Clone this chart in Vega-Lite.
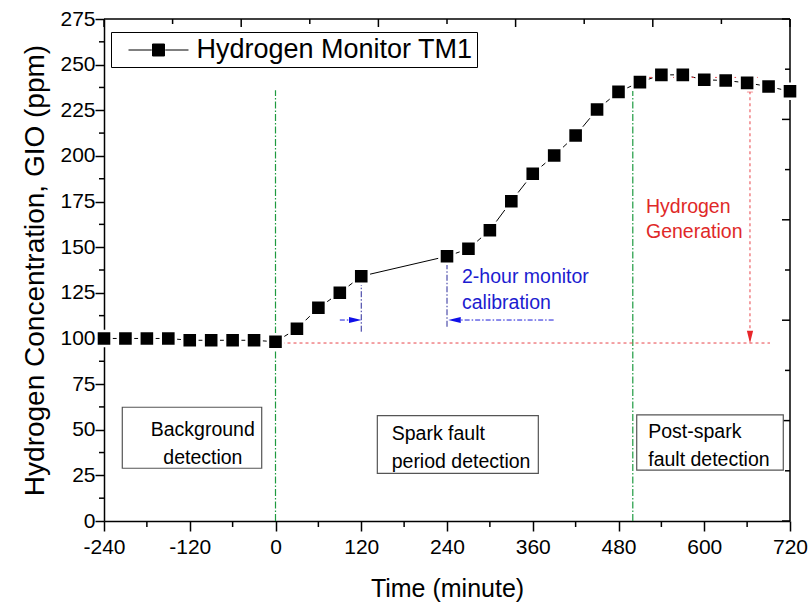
{
  "$schema": "https://vega.github.io/schema/vega-lite/v6.json",
  "width": 686,
  "height": 502,
  "autosize": {"type": "none"},
  "padding": {"left": 104, "top": 19, "right": 20, "bottom": 87},
  "background": "white",
  "config": {
    "view": {"stroke": null},
    "axis": {
      "grid": false,
      "domainColor": "black",
      "domainWidth": 1.5,
      "tickColor": "black",
      "tickWidth": 1.5,
      "labelFont": "Liberation Sans",
      "labelFontSize": 21,
      "labelColor": "black",
      "titleFont": "Liberation Sans",
      "titleFontWeight": "normal",
      "titleColor": "black"
    },
    "text": {"font": "Liberation Sans"}
  },
  "datasets": {
    "frameV": [{"x": 720, "y": 0, "y2": 275}],
    "frameH": [{"x": -240, "x2": 720, "y": 275}],
    "topMajor": [{"x": -240, "y": 275}, {"x": -48, "y": 275}, {"x": 144, "y": 275}, {"x": 336, "y": 275}, {"x": 528, "y": 275}, {"x": 720, "y": 275}],
    "topMinor": [{"x": -144, "y": 275}, {"x": 48, "y": 275}, {"x": 240, "y": 275}, {"x": 432, "y": 275}, {"x": 624, "y": 275}],
    "rightMajor": [{"x": 720, "y": 0}, {"x": 720, "y": 55}, {"x": 720, "y": 110}, {"x": 720, "y": 165}, {"x": 720, "y": 220}, {"x": 720, "y": 275}],
    "rightMinor": [{"x": 720, "y": 27.5}, {"x": 720, "y": 82.5}, {"x": 720, "y": 137.5}, {"x": 720, "y": 192.5}, {"x": 720, "y": 247.5}],
    "bottomMinor": [{"x": -180, "y": 0}, {"x": -60, "y": 0}, {"x": 60, "y": 0}, {"x": 180, "y": 0}, {"x": 300, "y": 0}, {"x": 420, "y": 0}, {"x": 540, "y": 0}, {"x": 660, "y": 0}],
    "leftMinor": [{"x": -240, "y": 12.5}, {"x": -240, "y": 37.5}, {"x": -240, "y": 62.5}, {"x": -240, "y": 87.5}, {"x": -240, "y": 112.5}, {"x": -240, "y": 137.5}, {"x": -240, "y": 162.5}, {"x": -240, "y": 187.5}, {"x": -240, "y": 212.5}, {"x": -240, "y": 237.5}, {"x": -240, "y": 262.5}],
    "main": [
      {"t": -240, "c": 100, "s": "Hydrogen Monitor TM1"},
      {"t": -210, "c": 100, "s": "Hydrogen Monitor TM1"},
      {"t": -180, "c": 100, "s": "Hydrogen Monitor TM1"},
      {"t": -150, "c": 100, "s": "Hydrogen Monitor TM1"},
      {"t": -120, "c": 99, "s": "Hydrogen Monitor TM1"},
      {"t": -90, "c": 99, "s": "Hydrogen Monitor TM1"},
      {"t": -60, "c": 99, "s": "Hydrogen Monitor TM1"},
      {"t": -30, "c": 99, "s": "Hydrogen Monitor TM1"},
      {"t": 0, "c": 98.2, "s": "Hydrogen Monitor TM1"},
      {"t": 30, "c": 105.3, "s": "Hydrogen Monitor TM1"},
      {"t": 60, "c": 116.8, "s": "Hydrogen Monitor TM1"},
      {"t": 90, "c": 125, "s": "Hydrogen Monitor TM1"},
      {"t": 120, "c": 134.1, "s": "Hydrogen Monitor TM1"},
      {"t": 240, "c": 145, "s": "Hydrogen Monitor TM1"},
      {"t": 270, "c": 149.1, "s": "Hydrogen Monitor TM1"},
      {"t": 300, "c": 159.3, "s": "Hydrogen Monitor TM1"},
      {"t": 330, "c": 175.2, "s": "Hydrogen Monitor TM1"},
      {"t": 360, "c": 190.2, "s": "Hydrogen Monitor TM1"},
      {"t": 390, "c": 200.2, "s": "Hydrogen Monitor TM1"},
      {"t": 420, "c": 211.2, "s": "Hydrogen Monitor TM1"},
      {"t": 450, "c": 225.4, "s": "Hydrogen Monitor TM1"},
      {"t": 480, "c": 235.1, "s": "Hydrogen Monitor TM1"},
      {"t": 510, "c": 240.4, "s": "Hydrogen Monitor TM1"},
      {"t": 540, "c": 244.4, "s": "Hydrogen Monitor TM1"},
      {"t": 570, "c": 244.4, "s": "Hydrogen Monitor TM1"},
      {"t": 600, "c": 241.7, "s": "Hydrogen Monitor TM1"},
      {"t": 630, "c": 241.3, "s": "Hydrogen Monitor TM1"},
      {"t": 660, "c": 240, "s": "Hydrogen Monitor TM1"},
      {"t": 690, "c": 238, "s": "Hydrogen Monitor TM1"},
      {"t": 720, "c": 235.4, "s": "Hydrogen Monitor TM1"}
    ],
    "boxes": [
      {"x1": -214.4, "x2": -19.3, "y1": 28.9, "y2": 62.3},
      {"x1": 142.5, "x2": 367.8, "y1": 26.1, "y2": 57.7},
      {"x1": 505.5, "x2": 710.6, "y1": 27.9, "y2": 58.1}
    ],
    "boxText": [
      {"x": -174.6, "y": 49.9, "label": "Background"},
      {"x": -157, "y": 34.3, "label": "detection"},
      {"x": 162.6, "y": 47.5, "label": "Spark fault"},
      {"x": 162.6, "y": 32.5, "label": "period detection"},
      {"x": 521.6, "y": 48.9, "label": "Post-spark"},
      {"x": 521.6, "y": 33.4, "label": "fault detection"}
    ],
    "blueText": [
      {"x": 261, "y": 133.7, "label": "2-hour monitor"},
      {"x": 261, "y": 119.4, "label": "calibration"}
    ],
    "redText": [
      {"x": 518.5, "y": 172.2, "label": "Hydrogen"},
      {"x": 518.5, "y": 158.1, "label": "Generation"}
    ],
    "green": [
      {"x": 0, "y": 0, "y2": 236},
      {"x": 500, "y": 0, "y2": 236}
    ],
    "redH": [
      {"x": 0, "x2": 692, "y": 97.5},
      {"x": 506, "x2": 675, "y": 243}
    ],
    "redV": [
      {"x": 664, "y": 99, "y2": 240}
    ],
    "blueV": [
      {"x": 120, "y": 103.7, "y2": 134},
      {"x": 240, "y": 106.4, "y2": 145}
    ],
    "blueH": [
      {"x": 90, "x2": 112, "y": 110.1},
      {"x": 250, "x2": 392, "y": 110.1}
    ],
    "headUp": [{"x": 664, "y": 238.3}],
    "headDown": [{"x": 664, "y": 100.8}],
    "headRight": [{"x": 111.6, "y": 110.1}],
    "headLeft": [{"x": 250.5, "y": 110.1}]
  },
  "layer": [
    {
      "data": {"name": "main"},
      "mark": {"type": "line", "strokeWidth": 1, "color": "black"},
      "encoding": {
        "x": {"field": "t", "type": "quantitative",
          "scale": {"domain": [-240, 720], "nice": false, "zero": false},
          "axis": {"orient": "bottom", "values": [-240, -120, 0, 120, 240, 360, 480, 600, 720], "labelExpr": "toString(datum.value)", "labelFlush": false, "labelOverlap": false, "tickSize": 10, "labelPadding": 5, "title": "Time (minute)", "titleFontSize": 25, "titlePadding": 19}},
        "y": {"field": "c", "type": "quantitative",
          "scale": {"domain": [0, 275], "nice": false, "zero": false},
          "axis": {"orient": "left", "values": [0, 25, 50, 75, 100, 125, 150, 175, 200, 225, 250, 275], "labelOverlap": false, "tickSize": 9, "labelPadding": 0, "title": "Hydrogen Concentration, GIO (ppm)", "titleFontSize": 28, "titlePadding": 10}}
      }
    },
    {
      "data": {"name": "frameV"},
      "mark": {"type": "rule", "stroke": "black", "strokeWidth": 1.5},
      "encoding": {
        "x": {"field": "x", "type": "quantitative"},
        "y": {"field": "y", "type": "quantitative"},
        "y2": {"field": "y2"}
      }
    },
    {
      "data": {"name": "frameH"},
      "mark": {"type": "rule", "stroke": "black", "strokeWidth": 1.5},
      "encoding": {
        "x": {"field": "x", "type": "quantitative"},
        "x2": {"field": "x2"},
        "y": {"field": "y", "type": "quantitative"}
      }
    },
    {
      "data": {"name": "topMajor"},
      "mark": {"type": "tick", "orient": "vertical", "size": 8, "thickness": 1.5, "color": "black", "opacity": 1, "yOffset": 4},
      "encoding": {
        "x": {"field": "x", "type": "quantitative"},
        "y": {"field": "y", "type": "quantitative"}
      }
    },
    {
      "data": {"name": "topMinor"},
      "mark": {"type": "tick", "orient": "vertical", "size": 5, "thickness": 1.5, "color": "black", "opacity": 1, "yOffset": 2.5},
      "encoding": {
        "x": {"field": "x", "type": "quantitative"},
        "y": {"field": "y", "type": "quantitative"}
      }
    },
    {
      "data": {"name": "rightMajor"},
      "mark": {"type": "tick", "orient": "horizontal", "size": 8, "thickness": 1.5, "color": "black", "opacity": 1, "xOffset": -4},
      "encoding": {
        "x": {"field": "x", "type": "quantitative"},
        "y": {"field": "y", "type": "quantitative"}
      }
    },
    {
      "data": {"name": "rightMinor"},
      "mark": {"type": "tick", "orient": "horizontal", "size": 5, "thickness": 1.5, "color": "black", "opacity": 1, "xOffset": -2.5},
      "encoding": {
        "x": {"field": "x", "type": "quantitative"},
        "y": {"field": "y", "type": "quantitative"}
      }
    },
    {
      "data": {"name": "bottomMinor"},
      "mark": {"type": "tick", "orient": "vertical", "size": 6, "thickness": 1.5, "color": "black", "opacity": 1, "yOffset": 3},
      "encoding": {
        "x": {"field": "x", "type": "quantitative"},
        "y": {"field": "y", "type": "quantitative"}
      }
    },
    {
      "data": {"name": "leftMinor"},
      "mark": {"type": "tick", "orient": "horizontal", "size": 5, "thickness": 1.5, "color": "black", "opacity": 1, "xOffset": -2.5},
      "encoding": {
        "x": {"field": "x", "type": "quantitative"},
        "y": {"field": "y", "type": "quantitative"}
      }
    },
    {
      "data": {"name": "boxes"},
      "mark": {"type": "rect", "fill": "white", "stroke": "#555555", "strokeWidth": 1.2},
      "encoding": {
        "x": {"field": "x1", "type": "quantitative"},
        "x2": {"field": "x2"},
        "y": {"field": "y1", "type": "quantitative"},
        "y2": {"field": "y2"}
      }
    },
    {
      "data": {"name": "green"},
      "mark": {"type": "rule", "stroke": "#1e9a40", "strokeWidth": 1.2, "strokeDash": [7, 2, 1.5, 2]},
      "encoding": {
        "x": {"field": "x", "type": "quantitative"},
        "y": {"field": "y", "type": "quantitative"},
        "y2": {"field": "y2"}
      }
    },
    {
      "data": {"name": "redH"},
      "mark": {"type": "rule", "stroke": "#e8444a", "strokeWidth": 1, "strokeDash": [3, 3]},
      "encoding": {
        "x": {"field": "x", "type": "quantitative"},
        "x2": {"field": "x2"},
        "y": {"field": "y", "type": "quantitative"}
      }
    },
    {
      "data": {"name": "redV"},
      "mark": {"type": "rule", "stroke": "#e8444a", "strokeWidth": 1, "strokeDash": [3, 3]},
      "encoding": {
        "x": {"field": "x", "type": "quantitative"},
        "y": {"field": "y", "type": "quantitative"},
        "y2": {"field": "y2"}
      }
    },
    {
      "data": {"name": "blueV"},
      "mark": {"type": "rule", "stroke": "#2a2a9a", "strokeWidth": 1, "strokeDash": [6, 2, 1.5, 2]},
      "encoding": {
        "x": {"field": "x", "type": "quantitative"},
        "y": {"field": "y", "type": "quantitative"},
        "y2": {"field": "y2"}
      }
    },
    {
      "data": {"name": "blueH"},
      "mark": {"type": "rule", "stroke": "#1a1ad8", "strokeWidth": 1, "strokeDash": [5, 2, 1.5, 2]},
      "encoding": {
        "x": {"field": "x", "type": "quantitative"},
        "x2": {"field": "x2"},
        "y": {"field": "y", "type": "quantitative"}
      }
    },
    {
      "data": {"name": "headUp"},
      "mark": {"type": "point", "shape": "M0,-1L0.5,1L-0.5,1Z", "filled": true, "size": 156, "opacity": 1, "strokeWidth": 0, "fill": "#e8262a"},
      "encoding": {
        "x": {"field": "x", "type": "quantitative"},
        "y": {"field": "y", "type": "quantitative"}
      }
    },
    {
      "data": {"name": "headDown"},
      "mark": {"type": "point", "shape": "M0,1L0.5,-1L-0.5,-1Z", "filled": true, "size": 156, "opacity": 1, "strokeWidth": 0, "fill": "#e8262a"},
      "encoding": {
        "x": {"field": "x", "type": "quantitative"},
        "y": {"field": "y", "type": "quantitative"}
      }
    },
    {
      "data": {"name": "headRight"},
      "mark": {"type": "point", "shape": "M1,0L-1,-0.48L-1,0.48Z", "filled": true, "size": 156, "opacity": 1, "strokeWidth": 0, "fill": "#1010e8"},
      "encoding": {
        "x": {"field": "x", "type": "quantitative"},
        "y": {"field": "y", "type": "quantitative"}
      }
    },
    {
      "data": {"name": "headLeft"},
      "mark": {"type": "point", "shape": "M-1,0L1,-0.48L1,0.48Z", "filled": true, "size": 156, "opacity": 1, "strokeWidth": 0, "fill": "#1010e8"},
      "encoding": {
        "x": {"field": "x", "type": "quantitative"},
        "y": {"field": "y", "type": "quantitative"}
      }
    },
    {
      "data": {"name": "main"},
      "mark": {"type": "point", "shape": "square", "filled": true, "size": 228, "fill": "black", "stroke": "white", "strokeWidth": 2.5, "opacity": 1},
      "encoding": {
        "x": {"field": "t", "type": "quantitative"},
        "y": {"field": "c", "type": "quantitative"},
        "color": {"field": "s", "type": "nominal",
          "scale": {"range": ["black"]},
          "legend": {
            "title": null,
            "orient": "none",
            "legendX": 7,
            "legendY": 13,
            "symbolType": "M-2.222,0H-0.5M0.5,0H2.222M-0.444,-0.444H0.444V0.444H-0.444Z",
            "symbolSize": 729,
            "symbolStrokeWidth": 1,
            "symbolFillColor": "black",
            "symbolStrokeColor": "black",
            "symbolOffset": 29.5,
            "labelOffset": 24,
            "labelFont": "Liberation Sans",
            "labelFontSize": 27,
            "labelColor": "black",
            "labelLimit": 500,
            "padding": 4,
            "strokeColor": "black",
            "fillColor": "white",
            "encode": {"symbols": {"update": {"fill": {"value": "black"}, "stroke": {"value": "black"}, "strokeWidth": {"value": 1}}}}
          }}
      }
    },
    {
      "data": {"name": "boxText"},
      "mark": {"type": "text", "align": "left", "baseline": "middle", "fontSize": 19.5, "color": "black"},
      "encoding": {
        "x": {"field": "x", "type": "quantitative"},
        "y": {"field": "y", "type": "quantitative"},
        "text": {"field": "label"}
      }
    },
    {
      "data": {"name": "blueText"},
      "mark": {"type": "text", "align": "left", "baseline": "middle", "fontSize": 19.5, "color": "#1c1cd0"},
      "encoding": {
        "x": {"field": "x", "type": "quantitative"},
        "y": {"field": "y", "type": "quantitative"},
        "text": {"field": "label"}
      }
    },
    {
      "data": {"name": "redText"},
      "mark": {"type": "text", "align": "left", "baseline": "middle", "fontSize": 19.5, "color": "#e02828"},
      "encoding": {
        "x": {"field": "x", "type": "quantitative"},
        "y": {"field": "y", "type": "quantitative"},
        "text": {"field": "label"}
      }
    }
  ]
}
